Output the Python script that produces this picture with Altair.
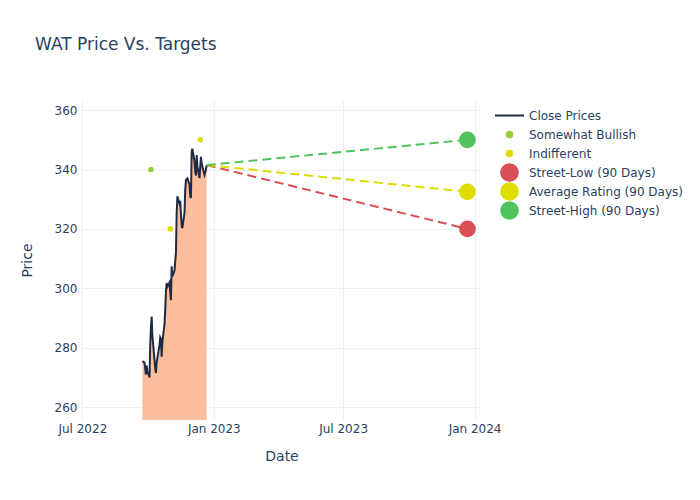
import altair as alt
import pandas as pd

# ---------------- data ----------------
close_dates = [
    "2022-09-23", "2022-09-26", "2022-09-27", "2022-09-28", "2022-09-29", "2022-09-30",
    "2022-10-03", "2022-10-04", "2022-10-05", "2022-10-06", "2022-10-07",
    "2022-10-10", "2022-10-11", "2022-10-12", "2022-10-13", "2022-10-14",
    "2022-10-17", "2022-10-18", "2022-10-19", "2022-10-20", "2022-10-21",
    "2022-10-24", "2022-10-25", "2022-10-26", "2022-10-27", "2022-10-28",
    "2022-10-31", "2022-11-01", "2022-11-02", "2022-11-03", "2022-11-04",
    "2022-11-07", "2022-11-08", "2022-11-09", "2022-11-10", "2022-11-11",
    "2022-11-14", "2022-11-15", "2022-11-16", "2022-11-17", "2022-11-18",
    "2022-11-21", "2022-11-22", "2022-11-23", "2022-11-25",
    "2022-11-28", "2022-11-29", "2022-11-30", "2022-12-01", "2022-12-02",
    "2022-12-05", "2022-12-06", "2022-12-07", "2022-12-08", "2022-12-09",
    "2022-12-12", "2022-12-13", "2022-12-14", "2022-12-15", "2022-12-16",
    "2022-12-19", "2022-12-20", "2022-12-21", "2022-12-22",
]
close_values = [
    275.5, 275.0, 273.0, 271.0, 274.0, 272.0,
    270.0, 281.0, 287.0, 290.5, 284.0,
    276.0, 273.0, 271.5, 275.0, 276.5,
    281.0, 283.5, 283.0, 277.0, 282.0,
    288.0, 293.0, 299.0, 301.8, 300.5,
    302.0, 299.0, 296.0, 307.4, 304.0,
    306.0, 309.0, 312.0, 325.0, 331.0,
    328.5, 329.5, 325.0, 321.0, 320.3,
    325.5, 333.0, 336.5, 337.0,
    335.0, 331.0, 330.4, 346.0, 347.0,
    342.7, 339.3, 338.0, 344.9, 341.0,
    337.1, 341.0, 344.3, 342.0, 341.0,
    338.2, 339.0, 339.9, 341.5,
]

rating_dates = ["2022-10-05", "2022-11-01", "2022-12-13"]
rating_values = [340, 320, 350]
rating_labels = ["Somewhat Bullish", "Indifferent", "Indifferent"]

target_date = "2023-12-22"
target_names = ["Street-Low (90 Days)", "Average Rating (90 Days)", "Street-High (90 Days)"]
target_values = [320, 332.5, 350]

series_order = ["Close Prices", "Somewhat Bullish", "Indifferent"] + target_names

# ---------------- styles ----------------
palette = {
    "Close Prices": "#1f2a44",
    "Somewhat Bullish": "#9acd32",
    "Indifferent": "#dddd00",
    "Street-Low (90 Days)": "#d84f55",
    "Average Rating (90 Days)": "#dfdd00",
    "Street-High (90 Days)": "#50c35c",
}
symbol_shape = {s: ("stroke" if s == "Close Prices" else "circle") for s in series_order}
symbol_size = {
    "Close Prices": 841,
    "Somewhat Bullish": 30,
    "Indifferent": 30,
    "Street-Low (90 Days)": 280,
    "Average Rating (90 Days)": 280,
    "Street-High (90 Days)": 280,
}
TEXT = "#2a3f5f"
FONT = "DejaVu Sans"

# ---------------- tables ----------------
close_df = pd.DataFrame({"date": close_dates, "price": close_values, "series": "Close Prices"})

points_df = pd.DataFrame({
    "date": rating_dates + [target_date] * len(target_names),
    "price": rating_values + target_values,
    "series": rating_labels + target_names,
})

last_date, last_price = close_dates[-1], close_values[-1]
dash_rows = []
for name, val in zip(target_names, target_values):
    dash_rows.append({"date": last_date, "price": last_price, "target": name, "hex": palette[name]})
    dash_rows.append({"date": target_date, "price": val, "target": name, "hex": palette[name]})
dash_df = pd.DataFrame(dash_rows)

# ---------------- scales ----------------
x_scale = alt.Scale(
    domain=[alt.DateTime(year=2022, month=6, date=30, hours=12),
            alt.DateTime(year=2024, month=1, date=10)],
)
y_scale = alt.Scale(domain=[255.7, 363.4], zero=False, nice=False)

x_enc = alt.X(
    "date:T", title="Date", scale=x_scale,
    axis=alt.Axis(
        values=[alt.DateTime(year=2022, month=7, date=1),
                alt.DateTime(year=2023, month=1, date=1),
                alt.DateTime(year=2023, month=7, date=1),
                alt.DateTime(year=2024, month=1, date=1)],
        format="%b %Y", labelPadding=3, titlePadding=15, labelFlush=False,
    ),
)
y_enc = alt.Y(
    "price:Q", title="Price", scale=y_scale,
    axis=alt.Axis(values=[260, 280, 300, 320, 340, 360], labelPadding=5, titlePadding=20),
)

color_scale = alt.Scale(domain=series_order, range=[palette[s] for s in series_order])
shape_scale = alt.Scale(domain=series_order, range=[symbol_shape[s] for s in series_order])
size_scale = alt.Scale(type="ordinal", domain=series_order,
                       range=[symbol_size[s] for s in series_order])

legend = alt.Legend(
    title=None,
    orient="none",
    legendX=412,
    legendY=6,
    padding=0,
    clipHeight=19,
    symbolOpacity=1,
    symbolStrokeWidth=2,
    rowPadding=0,
    labelOffset=4,
    labelFontSize=12,
    labelFont=FONT,
    labelColor=TEXT,
    labelLimit=300,
    values=series_order,
)

color_enc = alt.Color("series:N", scale=color_scale, legend=legend)
shape_enc = alt.Shape("series:N", scale=shape_scale, legend=legend)
size_enc = alt.Size("series:N", scale=size_scale, legend=legend)

area = alt.Chart(close_df).mark_area(color="#fbbe9a", opacity=1, clip=True).encode(
    x=x_enc, y=y_enc
)

line = alt.Chart(close_df).mark_line(strokeWidth=2, clip=True).encode(
    x=x_enc, y=y_enc, color=color_enc
)

dashes = alt.Chart(dash_df).mark_line(strokeWidth=2, strokeDash=[9, 5]).encode(
    x=x_enc, y=y_enc,
    detail="target:N",
    color=alt.Color("hex:N", scale=None),
)

points = alt.Chart(points_df).mark_point(filled=True, opacity=1, strokeWidth=0).encode(
    x=x_enc, y=y_enc,
    color=color_enc,
    shape=shape_enc,
    size=size_enc,
)

chart = alt.layer(area, line, dashes, points).properties(
    width=399,
    height=320,
    autosize=alt.AutoSizeParams(type="none"),
    padding={"left": 74, "top": 92, "right": 211, "bottom": 72},
    background="white",
    title=alt.TitleParams(
        "WAT Price Vs. Targets",
        anchor="start", frame="group", dx=-47, offset=46,
        fontSize=17, fontWeight="normal", color=TEXT, font=FONT,
    ),
).configure_view(stroke=None).configure_axis(
    grid=True,
    gridColor="#ebf0f8",
    gridWidth=1,
    domain=False,
    ticks=False,
    labelFont=FONT,
    labelFontSize=12,
    labelColor=TEXT,
    titleFont=FONT,
    titleFontSize=14,
    titleFontWeight="normal",
    titleColor=TEXT,
)

chart.save("out.html", embed_options={"renderer": "svg", "actions": False})
